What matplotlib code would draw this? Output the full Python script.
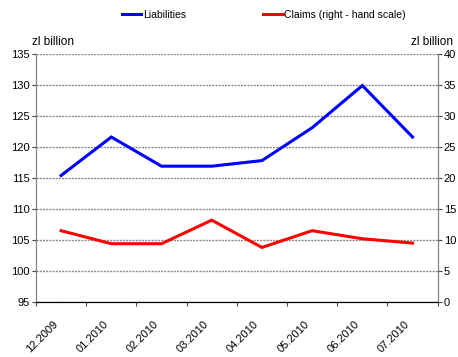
import numpy as np
import matplotlib
matplotlib.use("Agg")
import matplotlib.pyplot as plt
import matplotlib.transforms as mtransforms

months = ["12.2009", "01.2010", "02.2010", "03.2010", "04.2010", "05.2010", "06.2010", "07.2010"]
liabilities = [115.4, 121.6, 116.9, 116.9, 117.8, 123.1, 129.9, 121.6]
claims = [11.5, 9.4, 9.4, 13.2, 8.8, 11.5, 10.2, 9.5]

plt.rcParams["font.family"] = ["Liberation Sans", "DejaVu Sans"]

fig = plt.figure(figsize=(4.58, 3.57), dpi=100)
ax = fig.add_axes([0.0786, 0.154, 0.877, 0.695])
ax2 = ax.twinx()

x = np.arange(len(months))
l1, = ax.plot(x, liabilities, color="#0000ff", lw=2.2, solid_joinstyle="miter", label="Liabilities")
l2, = ax2.plot(x, claims, color="#ff0000", lw=2.2, solid_joinstyle="miter", label="Claims (right - hand scale)")

ax.set_xlim(-0.5, len(months) - 0.5)
ax.set_ylim(95, 135)
ax.set_yticks(np.arange(95, 136, 5))
ax2.set_ylim(0, 40)
ax2.set_yticks(np.arange(0, 41, 5))

# gridlines
ax.yaxis.grid(True, color="#8a8a8a", lw=1.0, linestyle=(0, (1.5, 0.8)))
ax.set_axisbelow(True)

# category boundary ticks
ax.set_xticks(np.arange(-0.5, len(months), 1.0))
ax.set_xticklabels([])
ax.set_xticks(x, minor=True)
ax.set_xticklabels(months, minor=True, rotation=45, ha="right", rotation_mode="anchor", fontsize=8)
ax.tick_params(axis="x", which="minor", length=0, pad=12)
ax.tick_params(axis="x", which="major", length=3, width=0.8, color="#444444", direction="out")
ax.tick_params(axis="y", length=3, width=0.8, color="#444444", labelsize=8, pad=1.5)
ax2.tick_params(axis="y", length=3, width=0.8, color="#444444", labelsize=8, pad=1.5)

# nudge the rotated month labels a little to the left
shift = mtransforms.ScaledTranslation(-6 / 72, 0, fig.dpi_scale_trans)
for lbl in ax.get_xticklabels(minor=True):
    lbl.set_transform(lbl.get_transform() + shift)

for a in (ax, ax2):
    a.spines["top"].set_visible(False)
    a.spines["left"].set_color("#808080")
    a.spines["right"].set_color("#808080")
    a.spines["bottom"].set_color("#000000")

fig.text(0.07, 0.875, "zl billion", fontsize=8.5, ha="left")
fig.text(0.99, 0.875, "zl billion", fontsize=8.5, ha="right")

fig.legend(handles=[l1, l2], loc="center", bbox_to_anchor=(0.576, 0.958), ncol=2,
           frameon=False, fontsize=7.5, handlelength=1.9, handletextpad=0.15,
           columnspacing=7.4)

fig.savefig("out.png", dpi=100)
